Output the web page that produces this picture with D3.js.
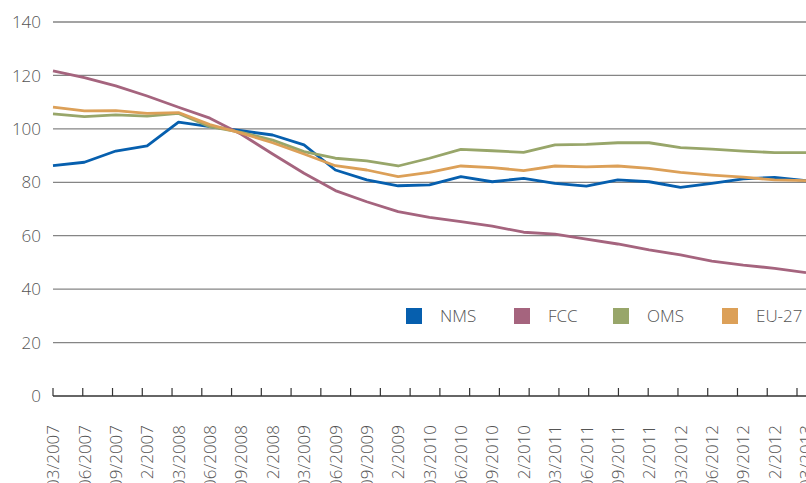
<!DOCTYPE html>
<html><head><meta charset="utf-8">
<script src="https://cdn.jsdelivr.net/npm/d3@7"></script>
<style>
html,body{margin:0;padding:0;background:#fff;}
svg text{font-family:"Open Sans",sans-serif;fill:#555;}
</style></head><body>
<svg id="c" width="806" height="483"></svg>
<script>
const categories = ["03/2007","06/2007","09/2007","12/2007","03/2008","06/2008","09/2008","12/2008","03/2009","06/2009","09/2009","12/2009","03/2010","06/2010","09/2010","12/2010","03/2011","06/2011","09/2011","12/2011","03/2012","06/2012","09/2012","12/2012","03/2013"];
const NMS = [86.2,87.5,91.7,93.6,102.5,100.8,99.3,97.7,94.0,84.6,80.9,78.7,79.0,82.1,80.2,81.5,79.6,78.6,80.9,80.2,78.1,79.6,81.3,81.8,80.6];
const FCC = [121.7,119.2,116.1,112.3,108.1,104.0,98.0,90.6,83.4,76.9,72.7,69.0,66.9,65.3,63.6,61.3,60.6,58.7,56.9,54.7,52.8,50.5,49.0,47.8,46.2];
const OMS = [105.6,104.6,105.2,104.8,105.8,100.8,98.7,95.8,91.5,89.0,88.0,86.1,89.0,92.3,91.8,91.2,94.0,94.2,94.8,94.8,93.0,92.4,91.7,91.1,91.1];
const EU27 = [108.1,106.7,106.8,105.8,106.1,101.6,98.4,94.8,90.6,86.2,84.6,82.1,83.7,86.1,85.5,84.4,86.1,85.8,86.1,85.2,83.7,82.7,81.9,80.9,80.6];
const seriesNames = ["NMS","FCC","OMS","EU-27"];
const seriesColors = ["#065fae","#a5647e","#98a66a","#dca058"];
const yTicks = [0,20,40,60,80,100,120,140];

const series = [NMS, FCC, OMS, EU27];
const svg = d3.select("#c");
const pLeft = 53, pRight = 806, pTop = 22, pBottom = 396;

const x = d3.scalePoint().domain(categories).range([pLeft, pRight]);
const y = d3.scaleLinear().domain([0, 140]).range([pBottom, pTop]);
const tickScale = d3.scaleLinear().domain([0, 25]).range([pLeft, 797]);

// gridlines
svg.append("g").selectAll("line").data(yTicks.filter(d => d > 0)).join("line")
  .attr("x1", pLeft).attr("x2", pRight)
  .attr("y1", d => y(d)).attr("y2", d => y(d))
  .attr("stroke", "#858585").attr("stroke-width", 1.3);

// y labels
svg.append("g").selectAll("text").data(yTicks).join("text")
  .attr("x", 41).attr("y", d => y(d)).attr("dy", "0.36em")
  .attr("text-anchor", "end").attr("font-size", 17).attr("font-weight", 300)
  .text(d => d);

// x axis line and ticks
svg.append("line").attr("x1", pLeft).attr("x2", pRight)
  .attr("y1", pBottom).attr("y2", pBottom).attr("stroke", "#333").attr("stroke-width", 1.3);
svg.append("g").selectAll("line").data(d3.range(26)).join("line")
  .attr("x1", d => tickScale(d)).attr("x2", d => tickScale(d))
  .attr("y1", pBottom - 8).attr("y2", pBottom)
  .attr("stroke", "#333").attr("stroke-width", 1.2);

// x labels
svg.append("g").selectAll("text").data(categories).join("text")
  .attr("transform", d => `translate(${x(d)},425) rotate(-90)`)
  .attr("text-anchor", "end").attr("dy", "0.36em")
  .attr("font-size", 17).attr("font-weight", 300)
  .text(d => d);

// lines
const line = d3.line().x((d, i) => x(categories[i])).y(d => y(d));
svg.append("g").selectAll("path").data(series).join("path")
  .attr("d", d => line(d)).attr("fill", "none")
  .attr("stroke", (d, i) => seriesColors[i]).attr("stroke-width", 2.8)
  .attr("stroke-linejoin", "round");

// legend
const legX = [406, 514, 613, 722];
const lg = svg.append("g").selectAll("g").data(seriesNames).join("g")
  .attr("transform", (d, i) => `translate(${legX[i]},308)`);
lg.append("rect").attr("width", 16).attr("height", 16).attr("fill", (d, i) => seriesColors[i]);
lg.append("text").attr("x", 34).attr("y", 8).attr("dy", "0.36em")
  .attr("font-size", 17).attr("font-weight", 300).text(d => d);
</script>
</body></html>
